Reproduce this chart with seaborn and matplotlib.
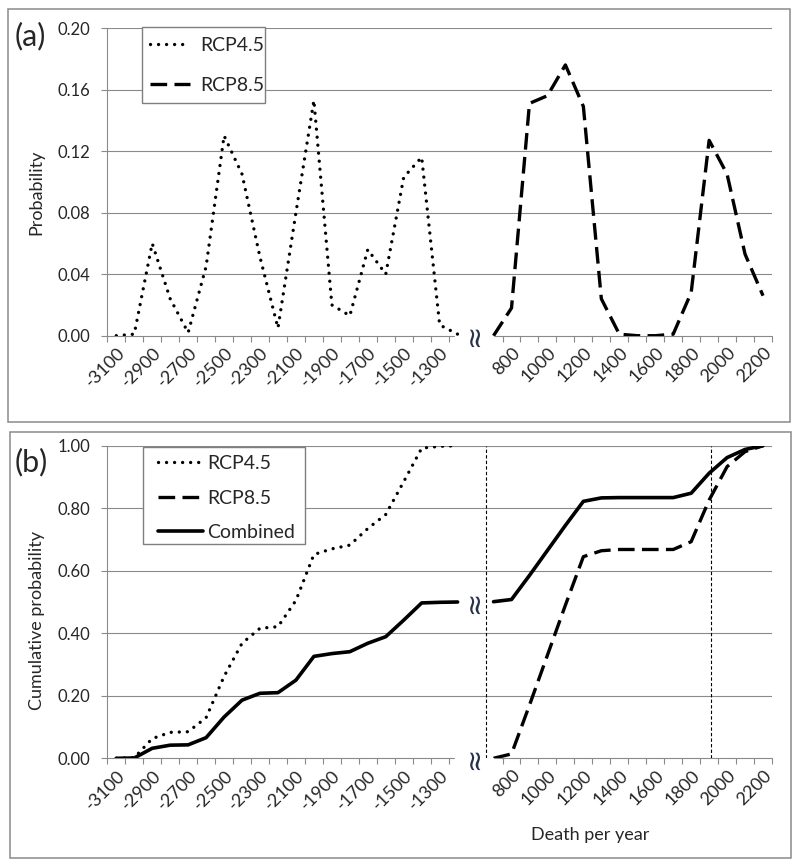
import matplotlib
matplotlib.use("Agg")
import matplotlib.pyplot as plt
from matplotlib.patches import Rectangle
import matplotlib.transforms as mtransforms
import pandas as pd
import seaborn as sns

# categories (death per year), left block and right block of the broken axis
left_years = [-3100, -3000, -2900, -2800, -2700, -2600, -2500, -2400, -2300, -2200,
              -2100, -2000, -1900, -1800, -1700, -1600, -1500, -1400, -1300, -1200]
right_years = [700, 800, 900, 1000, 1100, 1200, 1300, 1400, 1500, 1600,
               1700, 1800, 1900, 2000, 2100, 2200]

# (a) probability
rcp45_prob = [0.000, 0.001, 0.060, 0.024, 0.002, 0.045, 0.130, 0.105, 0.051, 0.005,
              0.080, 0.153, 0.020, 0.013, 0.056, 0.040, 0.103, 0.116, 0.007, 0.001]
rcp85_prob = [0.000, 0.018, 0.151, 0.156, 0.176, 0.149, 0.024, 0.001, 0.000, 0.000,
              0.001, 0.028, 0.127, 0.105, 0.053, 0.026]

# (b) cumulative probability
rcp45_cum = [0.000, 0.002, 0.063, 0.083, 0.085, 0.130, 0.262, 0.368, 0.416, 0.421,
             0.505, 0.652, 0.670, 0.682, 0.735, 0.780, 0.885, 0.992, 0.998, 1.000]
combined_left = [0.000, 0.001, 0.032, 0.042, 0.043, 0.066, 0.132, 0.186, 0.208, 0.210,
                 0.250, 0.326, 0.335, 0.341, 0.368, 0.389, 0.442, 0.497, 0.499, 0.500]
rcp85_cum = [0.000, 0.014, 0.170, 0.330, 0.490, 0.645, 0.664, 0.668, 0.668, 0.668,
             0.668, 0.693, 0.826, 0.933, 0.981, 1.000]
combined_right = [0.501, 0.508, 0.585, 0.665, 0.745, 0.822, 0.833, 0.834, 0.834, 0.834,
                  0.834, 0.848, 0.912, 0.962, 0.988, 1.000]

label_years = [-3100, -2900, -2700, -2500, -2300, -2100, -1900, -1700, -1500, -1300,
               800, 1000, 1200, 1400, 1600, 1800, 2000, 2200]

sns.set_style("white")
plt.rcParams['font.family'] = ['Lato', 'DejaVu Sans']

grid_c = "#8a8a8a"
lw = 2.4
dotted = (0, (0.01, 2.4))
dashed = (0, (5, 2.2))

# category slots: left block, one empty slot for the break, right block
gap = len(left_years)
pos = {y: i for i, y in enumerate(left_years)}
pos.update({y: gap + 1 + i for i, y in enumerate(right_years)})
n_cat = gap + 1 + len(right_years)

left_df = pd.DataFrame({"x": [pos[y] for y in left_years], "p45": rcp45_prob,
                        "c45": rcp45_cum, "comb": combined_left})
right_df = pd.DataFrame({"x": [pos[y] for y in right_years], "p85": rcp85_prob,
                         "c85": rcp85_cum, "comb": combined_right})

fig = plt.figure(figsize=(8, 8.68), dpi=100)
W, H = 800, 868

# chart-area frames
fig.patches.append(Rectangle((8 / W, 1 - 422 / H), 782 / W, 413 / H, transform=fig.transFigure,
                             fill=False, edgecolor=grid_c, lw=1.1))
fig.patches.append(Rectangle((10 / W, 1 - 858 / H), 781 / W, 426 / H, transform=fig.transFigure,
                             fill=False, edgecolor=grid_c, lw=1.1))

ax_a = fig.add_axes([107.3 / W, 1 - 335.7 / H, 664.7 / W, 307.7 / H])
ax_b = fig.add_axes([107.3 / W, 1 - 758.3 / H, 664.7 / W, 312.6 / H])


def break_mark(ax, y):
    ax.text(gap - 0.1, y, "\u2248", rotation=90, ha="center", va="center", fontsize=20,
            family="DejaVu Sans", color="#26304a", clip_on=False)


def style_axis(ax, ymax, ystep):
    ax.set_xlim(-0.5, n_cat - 0.5)
    ax.set_ylim(0, ymax)
    yt = [round(ystep * k, 4) for k in range(int(round(ymax / ystep)) + 1)]
    ax.set_yticks(yt)
    ax.set_yticklabels([f"{v:.2f}" for v in yt])
    for v in yt[1:]:
        ax.axhline(v, color=grid_c, lw=0.8, zorder=0)
    for s in ["top", "right", "bottom"]:
        ax.spines[s].set_visible(False)
    ax.spines["left"].set_color(grid_c)
    ax.spines["left"].set_linewidth(0.8)
    # broken x axis line
    ax.plot([-0.5, gap - 1.2], [0, 0], color=grid_c, lw=0.8, clip_on=False, zorder=1)
    ax.plot([gap + 1, n_cat - 0.5], [0, 0], color=grid_c, lw=0.8, clip_on=False, zorder=1)
    break_mark(ax, 0)
    bounds = [i - 0.5 for i in range(gap)] + [gap + 1.5 + i for i in range(len(right_years))]
    ax.set_xticks(bounds, minor=True)
    ax.set_xticks([pos[y] for y in label_years])
    ax.set_xticklabels([str(y) for y in label_years], rotation=45, ha="right",
                       va="center", rotation_mode="anchor")
    ax.tick_params(axis="x", which="minor", bottom=True, length=4.3, width=0.8,
                   color=grid_c, direction="out")
    ax.tick_params(axis="x", which="major", bottom=True, length=0, pad=10.5, labelsize=13)
    ax.tick_params(axis="y", left=True, length=4.3, width=0.8, color=grid_c,
                   direction="out", pad=8.0, labelsize=12)
    off = mtransforms.ScaledTranslation(6 / 100, 0, fig.dpi_scale_trans)
    for t in ax.get_xticklabels():
        t.set_transform(t.get_transform() + off)


# (a)
sns.lineplot(data=left_df, x="x", y="p45", ax=ax_a, color="black", lw=lw,
             linestyle=dotted, dash_capstyle="round", label="RCP4.5")
sns.lineplot(data=right_df, x="x", y="p85", ax=ax_a, color="black", lw=lw,
             linestyle=dashed, label="RCP8.5")
style_axis(ax_a, 0.20, 0.04)
ax_a.set_xlabel("")
ax_a.set_ylabel("Probability", fontsize=13)
ax_a.yaxis.set_label_coords(-0.095, 0.467)

# (b)
sns.lineplot(data=left_df, x="x", y="c45", ax=ax_b, color="black", lw=lw,
             linestyle=dotted, dash_capstyle="round", label="RCP4.5")
sns.lineplot(data=right_df, x="x", y="c85", ax=ax_b, color="black", lw=lw,
             linestyle=dashed, label="RCP8.5")
sns.lineplot(data=left_df, x="x", y="comb", ax=ax_b, color="black", lw=2.6, label="Combined")
sns.lineplot(data=right_df, x="x", y="comb", ax=ax_b, color="black", lw=2.6)
style_axis(ax_b, 1.0, 0.2)
break_mark(ax_b, 0.5)
ax_b.vlines([gap + 0.6, pos[1900] + 0.1], 0, 1, colors="black", lw=0.8,
            linestyles=[(0, (3, 2))])
ax_b.set_ylabel("Cumulative probability", fontsize=13)
ax_b.yaxis.set_label_coords(-0.093, 0.44)
ax_b.set_xlabel("Death per year", fontsize=13)
ax_b.xaxis.set_label_coords(0.7266, -0.245)
ax_b.xaxis.label.set_va("center")

# legends: drawn without frame, frame added as a plain box behind them
for ax, box, anchor, spacing, hlen, hpad in [
        (ax_a, (142, 27, 123, 76), (150, 37), 1.18, 2.06, 0.5),
        (ax_b, (143, 447, 162, 97), (158, 455), 0.9, 2.3, 0.25)]:
    h, l = ax.get_legend_handles_labels()
    leg = ax.legend(h, l, loc="upper left", bbox_to_anchor=(anchor[0] / W, 1 - anchor[1] / H),
                    bbox_transform=fig.transFigure, frameon=False, borderpad=0,
                    borderaxespad=0, fontsize=14, handlelength=hlen, handletextpad=hpad,
                    labelspacing=spacing)
    leg.set_zorder(10)
    ax.add_patch(Rectangle((box[0] / W, 1 - (box[1] + box[3]) / H), box[2] / W,
                           box[3] / H, transform=fig.transFigure, facecolor="white",
                           edgecolor="#7f7f7f", lw=1.0, zorder=9, clip_on=False))

fig.text(15 / W, 1 - 36 / H, "(a)", fontsize=22, va="center", ha="left")
fig.text(15 / W, 1 - 462 / H, "(b)", fontsize=22, va="center", ha="left")

fig.savefig("out.png", dpi=100)
